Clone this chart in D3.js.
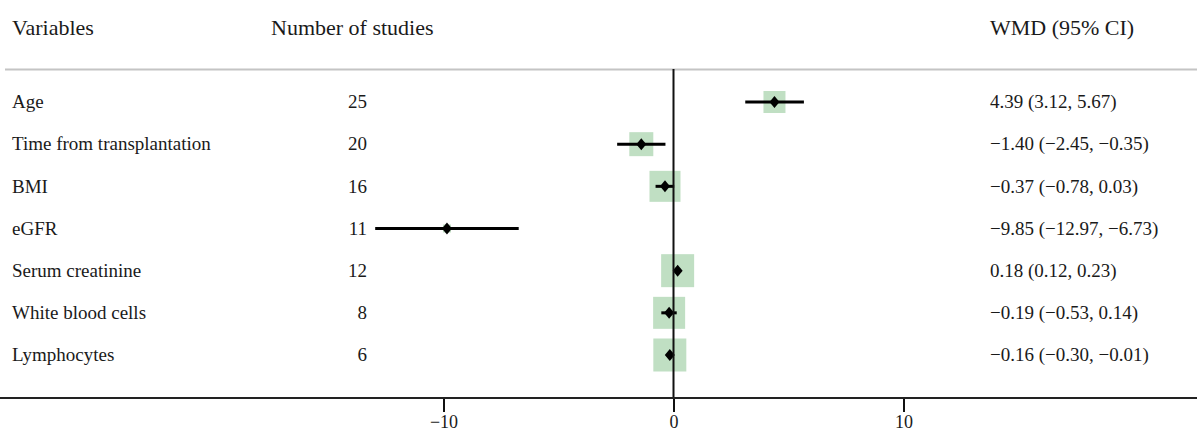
<!DOCTYPE html>
<html>
<head>
<meta charset="utf-8">
<script src="https://cdn.jsdelivr.net/npm/d3@7"></script>
<style>
	body { margin: 0; background: #fff; }
	text { font-family: "Liberation Serif", "Times New Roman", serif; fill: #1a1a1a; }
</style>
</head>
<body>
<div id="chart"></div>
<script>

// Data:
var variables = ['Age', 'Time from transplantation', 'BMI', 'eGFR', 'Serum creatinine', 'White blood cells', 'Lymphocytes'],
	studies = [25, 20, 16, 11, 12, 8, 6],
	wmd = [4.39, -1.40, -0.37, -9.85, 0.18, -0.19, -0.16],
	lower = [3.12, -2.45, -0.78, -12.97, 0.12, -0.53, -0.30],
	upper = [5.67, -0.35, 0.03, -6.73, 0.23, 0.14, -0.01],
	weights = [22, 24, 31, 8, 33, 32, 33],
	xTicks = [-10, 0, 10];

var width = 1198,
	height = 433;

var fmt = function( v ) {
	return d3.format('.2f')( v ).replace('-', '\u2212');
};

var rows = variables.map(function( d, i ) {
	return { name: d, n: studies[i], est: wmd[i], lo: lower[i], hi: upper[i], w: weights[i] };
});

var svg = d3.select('#chart').append('svg')
	.attr('width', width)
	.attr('height', height);

// Scales:
var x = d3.scaleLinear()
	.domain([-10, 10])
	.range([443.5, 903.5]);

var y = d3.scalePoint()
	.domain(variables)
	.range([102, 355]);

var box = d3.scaleLinear()
	.domain([0, 33])
	.range([0, 33]);

// Header:
var header = svg.append('g').attr('class', 'header');
header.append('text').attr('x', 12).attr('y', 35).style('font-size', '22px').text('Variables');
header.append('text').attr('x', 271).attr('y', 35).style('font-size', '22px').text('Number of studies');
header.append('text').attr('x', 990).attr('y', 35).style('font-size', '22px').text('WMD (95% CI)');

header.append('line')
	.attr('x1', 5).attr('x2', 1197)
	.attr('y1', 69.5).attr('y2', 69.5)
	.attr('stroke', '#c4c4c4')
	.attr('stroke-width', 2);

// Row texts:
var rowText = svg.append('g').selectAll('g')
	.data(rows)
	.enter().append('g')
		.attr('transform', function(d) { return 'translate(0,' + y(d.name) + ')'; })
		.style('font-size', '19px');

rowText.append('text')
	.attr('x', 12).attr('dy', '0.33em')
	.text(function(d) { return d.name; });

rowText.append('text')
	.attr('x', 367).attr('dy', '0.33em')
	.attr('text-anchor', 'end')
	.text(function(d) { return d.n; });

rowText.append('text')
	.attr('x', 990).attr('dy', '0.33em')
	.text(function(d) { return fmt(d.est) + ' (' + fmt(d.lo) + ', ' + fmt(d.hi) + ')'; });

// Plot marks:
var marks = svg.append('g').attr('class', 'marks');

marks.selectAll('rect')
	.data(rows)
	.enter().append('rect')
		.attr('x', function(d) { return x(d.est) - box(d.w) / 2; })
		.attr('y', function(d) { return y(d.name) - box(d.w) / 2; })
		.attr('width', function(d) { return box(d.w); })
		.attr('height', function(d) { return box(d.w); })
		.attr('fill', '#c0dfc3');

// Line of no effect:
svg.append('line')
	.attr('x1', x(0)).attr('x2', x(0))
	.attr('y1', 69).attr('y2', 398)
	.attr('stroke', '#111')
	.attr('stroke-width', 2);

marks.selectAll('line.ci')
	.data(rows)
	.enter().append('line')
		.attr('class', 'ci')
		.attr('x1', function(d) { return x(d.lo); })
		.attr('x2', function(d) { return x(d.hi); })
		.attr('y1', function(d) { return y(d.name); })
		.attr('y2', function(d) { return y(d.name); })
		.attr('stroke', '#000')
		.attr('stroke-width', 3);

marks.selectAll('path.pt')
	.data(rows)
	.enter().append('path')
		.attr('class', 'pt')
		.attr('d', 'M0,-6L5,0L0,6L-5,0Z')
		.attr('transform', function(d) { return 'translate(' + x(d.est) + ',' + y(d.name) + ')'; })
		.attr('fill', '#000');

// Axis:
var axis = svg.append('g')
	.attr('transform', 'translate(0,398)');

axis.call(d3.axisBottom(x).tickValues(xTicks).tickSize(14).tickPadding(3)
	.tickFormat(function(d) { return String(d).replace('-', '\u2212'); }));

axis.select('.domain').remove();
axis.selectAll('.tick line').attr('stroke', '#111').attr('stroke-width', 2);
axis.selectAll('.tick text')
	.style('font-family', '"Liberation Serif", serif')
	.style('font-size', '18px')
	.attr('fill', '#1a1a1a');

axis.append('line')
	.attr('x1', 0).attr('x2', 1197)
	.attr('y1', 0).attr('y2', 0)
	.attr('stroke', '#222')
	.attr('stroke-width', 2);

</script>
</body>
</html>
